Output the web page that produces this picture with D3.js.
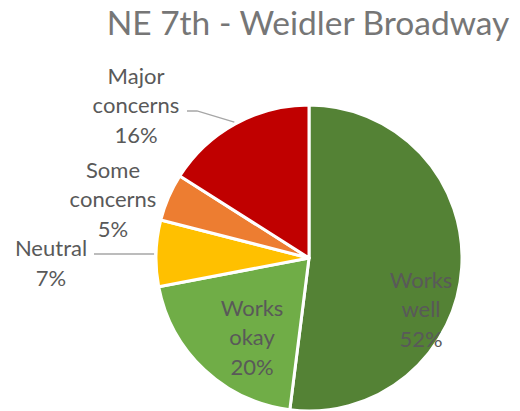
<!DOCTYPE html>
<html>
<head>
    <title>NE 7th - Weidler Broadway</title>
    <script src="https://d3js.org/d3.v7.min.js"></script>
    <style>
        body { margin: 0; background: #fff; }
        text { font-family: Lato, "Open Sans", sans-serif; }
    </style>
</head>
<body>
<script>
// Chart data
const categories = ['Works well', 'Works okay', 'Neutral', 'Some concerns', 'Major concerns'];
const values = [52, 20, 7, 5, 16];
const colors = ['#548235', '#70AD47', '#FFC000', '#ED7D31', '#C00000'];
const labelLines = [
    ['Works', 'well'],
    ['Works', 'okay'],
    ['Neutral'],
    ['Some', 'concerns'],
    ['Major', 'concerns']
];

const width = 520, height = 411;
const cx = 309, cy = 258, radius = 153;

// label layout: offset of label block center from pie center, optional leader line
const labelLayout = [
    { dx: 112, dy: 51 },
    { dx: -57, dy: 79 },
    { dx: -258, dy: 5, leaderY: -4, endX: 94 },
    { dx: -196, dy: -59 },
    { dx: -173, dy: -153, leaderY: -147, elbowX: 197, endX: 187 }
];

const svg = d3.select('body')
    .append('svg')
    .attr('width', width)
    .attr('height', height);

// Title
const title = svg.append('text')
    .attr('x', 308)
    .attr('y', 35)
    .attr('text-anchor', 'middle')
    .attr('fill', '#767676')
    .style('font-size', '32px')
    .text('NE 7th - Weidler Broadway');
// fit to reference width
const tw = title.node().getComputedTextLength();
title.style('font-size', (32 * 403 / tw) + 'px');

const pie = d3.pie()
    .sort(null)
    .value(d => d);

const arcs = pie(values);

const arc = d3.arc()
    .innerRadius(0)
    .outerRadius(radius);

const g = svg.append('g')
    .attr('transform', `translate(${cx},${cy})`);

g.selectAll('path')
    .data(arcs)
    .enter()
    .append('path')
    .attr('d', arc)
    .attr('fill', (d, i) => colors[i])
    .attr('stroke', '#fff')
    .attr('stroke-width', 3)
    .attr('stroke-linejoin', 'round');

// Leader lines
arcs.forEach((d, i) => {
    const lay = labelLayout[i];
    if (lay.leaderY === undefined) return;
    const mid = (d.startAngle + d.endAngle) / 2;
    const sx = Math.sin(mid) * (radius + 2);
    const sy = -Math.cos(mid) * (radius + 2);
    let pts;
    if (lay.elbowX !== undefined) {
        pts = [[sx, sy], [lay.elbowX - cx, lay.leaderY], [lay.endX - cx, lay.leaderY]];
    } else {
        pts = [[sx, lay.leaderY], [lay.endX - cx, lay.leaderY]];
    }
    g.append('path')
        .attr('d', d3.line()(pts))
        .attr('fill', 'none')
        .attr('stroke', '#A6A6A6')
        .attr('stroke-width', 1.3);
});

// Labels
const lineH = 29.5;
const total = d3.sum(values);
arcs.forEach((d, i) => {
    const lay = labelLayout[i];
    const lines = labelLines[i].concat([Math.round(values[i] / total * 100) + '%']);
    const n = lines.length;
    const t = g.append('text')
        .attr('text-anchor', 'middle')
        .attr('fill', '#595959')
        .style('font-size', '22px');
    lines.forEach((s, k) => {
        t.append('tspan')
            .attr('x', lay.dx)
            .attr('y', lay.dy + (k - (n - 1) / 2) * lineH + 8)
            .text(s);
    });
});
</script>
</body>
</html>
